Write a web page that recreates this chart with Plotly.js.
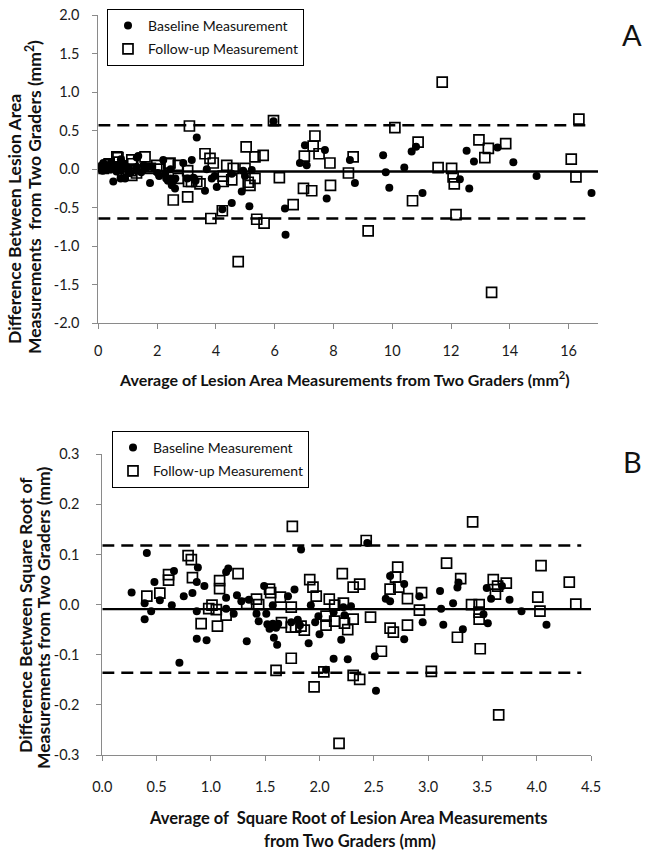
<!DOCTYPE html>
<html>
<head>
<meta charset="utf-8">
<script src="https://cdn.plot.ly/plotly-3.0.1.min.js"></script>
<style>html,body{margin:0;padding:0;background:#fff;}#chart{width:650px;height:854px;}</style>
</head>
<body>
<div id="chart"></div>
<script>
// ---------- Panel A: lesion area (mm^2) ----------
const topBaseX = [0.05,0.07,0.10,0.12,0.15,0.15,0.17,0.20,0.23,0.28,0.35,0.41,0.44,0.51,0.56,0.62,0.69,0.76,0.77,0.76,0.76,0.88,0.91,1.00,1.05,1.30,1.30,1.31,1.36,1.46,1.54,1.64,1.76,1.82,2.02,2.07,2.21,2.28,2.31,2.37,2.46,2.46,2.50,2.56,2.61,2.62,2.89,3.03,3.18,3.24,3.31,3.35,3.63,3.69,3.86,3.96,4.03,4.22,4.54,4.54,4.88,4.93,4.99,5.14,5.22,5.96,6.35,6.37,6.86,7.03,7.09,7.71,7.77,8.56,8.73,9.69,9.78,9.90,10.41,10.66,10.81,11.03,12.30,12.53,12.62,12.78,13.58,14.12,14.91,16.78];
const topBaseY = [0.02,0.01,0.04,-0.01,0.00,-0.02,0.08,-0.01,0.04,0.01,0.05,0.00,0.09,-0.16,0.03,-0.03,0.04,-0.02,0.13,0.08,-0.12,0.07,-0.12,0.02,-0.05,0.03,-0.02,0.15,0.17,-0.04,0.05,0.02,-0.18,0.03,-0.05,-0.09,0.12,-0.05,-0.12,-0.15,0.00,-0.12,-0.21,-0.15,-0.25,-0.12,0.08,-0.12,0.12,-0.11,-0.15,0.41,-0.28,0.00,-0.12,-0.09,-0.23,-0.52,-0.44,-0.06,-0.29,-0.02,-0.09,-0.48,-0.01,0.62,-0.51,-0.85,0.08,0.31,0.05,0.25,-0.38,0.12,-0.18,0.18,-0.04,-0.24,0.02,0.23,0.29,-0.31,-0.13,0.24,-0.25,0.10,0.28,0.09,-0.09,-0.31];
const topFollowX = [0.17,0.28,0.37,0.37,0.63,0.67,0.69,0.83,0.96,1.02,1.10,1.14,1.14,1.17,1.30,1.59,1.77,1.99,2.07,2.44,2.40,2.55,2.72,2.72,3.04,3.07,3.04,3.10,3.17,3.35,3.46,3.63,3.80,3.83,3.91,4.22,4.25,4.25,4.37,4.59,4.54,4.76,5.03,4.99,5.10,5.16,5.33,5.33,5.39,5.61,5.64,5.96,6.16,6.63,6.98,7.01,7.26,7.31,7.37,7.51,7.88,7.90,8.51,8.67,9.18,10.09,10.69,10.88,11.56,11.70,12.02,12.07,12.11,12.17,12.95,13.15,13.27,13.38,13.86,16.09,16.25,16.35];
const topFollowY = [0.01,0.02,0.07,0.06,0.16,0.15,0.09,-0.07,-0.02,0.00,-0.02,-0.08,0.12,0.07,-0.05,0.16,0.01,0.05,0.00,0.08,0.07,-0.40,0.05,-0.12,-0.02,-0.16,-0.36,0.56,-0.16,-0.16,-0.19,0.20,0.14,-0.64,0.08,-0.54,-0.09,-0.16,0.05,0.01,-0.14,-1.20,0.29,0.01,-0.17,-0.21,0.16,-0.12,-0.65,0.18,-0.70,0.63,-0.11,-0.46,-0.25,0.17,-0.28,0.30,0.43,0.20,0.08,-0.21,-0.05,0.16,-0.80,0.54,-0.41,0.35,0.02,1.13,0.01,-0.10,-0.19,-0.59,0.38,0.15,0.27,-1.60,0.33,0.13,-0.10,0.65];
const topMeanX = [0, 17];
const topMeanY = [-0.03, -0.03];
const topLimitX = [0, 16.8];
const topUpperY = [0.57, 0.57];
const topLowerY = [-0.64, -0.64];
const topXTicks = [0,2,4,6,8,10,12,14,16];
const topXTickText = ['0','2','4','6','8','10','12','14','16'];
const topYTicks = [-2,-1.5,-1,-0.5,0,0.5,1,1.5,2];
const topYTickText = ['-2.0','-1.5','-1.0','-0.5','0.0','0.5','1.0','1.5','2.0'];

// ---------- Panel B: square root of lesion area (mm) ----------
const botBaseX = [0.27,0.41,0.39,0.45,0.39,0.48,0.53,0.64,0.66,0.71,0.75,0.83,0.87,0.88,0.87,0.87,0.94,0.96,1.14,1.14,1.14,1.16,1.21,1.24,1.28,1.33,1.35,1.42,1.44,1.49,1.51,1.52,1.54,1.57,1.57,1.58,1.60,1.61,1.62,1.71,1.74,1.77,1.80,1.82,1.83,1.90,1.92,1.96,1.99,2.00,2.06,2.13,2.13,2.20,2.22,2.23,2.26,2.29,2.44,2.51,2.52,2.61,2.65,2.65,2.78,2.78,2.92,2.95,3.11,3.12,3.14,3.23,3.27,3.28,3.32,3.51,3.54,3.55,3.58,3.68,3.75,3.86,4.09];
const botBaseY = [0.024,0.103,0.003,-0.013,-0.029,0.045,0.009,-0.001,0.067,-0.116,0.017,0.023,-0.013,0.074,0.045,-0.068,0.037,-0.071,0.014,-0.008,0.065,0.072,-0.018,0.019,0.007,-0.073,0.010,-0.018,-0.033,0.037,-0.018,-0.039,-0.048,-0.001,-0.038,-0.066,-0.046,-0.080,-0.038,0.017,-0.035,0.030,-0.030,-0.041,0.110,-0.077,-0.001,-0.035,-0.023,-0.059,-0.130,-0.108,-0.015,-0.070,-0.005,-0.021,-0.109,-0.003,0.123,-0.103,-0.172,0.012,0.057,0.007,0.041,-0.069,0.017,-0.035,0.027,-0.008,-0.040,0.003,0.034,0.044,-0.049,-0.019,0.033,-0.037,0.012,0.037,0.010,-0.013,-0.040];
const botFollowX = [0.41,0.53,0.61,0.61,0.79,0.82,0.83,0.91,0.98,1.01,1.05,1.06,1.08,1.08,1.14,1.25,1.33,1.42,1.44,1.54,1.55,1.60,1.64,1.65,1.74,1.74,1.74,1.75,1.78,1.83,1.86,1.91,1.94,1.95,1.97,2.04,2.06,2.06,2.09,2.14,2.14,2.18,2.21,2.22,2.23,2.26,2.31,2.31,2.31,2.37,2.37,2.43,2.47,2.57,2.65,2.65,2.68,2.70,2.72,2.73,2.81,2.81,2.92,2.94,3.03,3.17,3.27,3.30,3.40,3.41,3.47,3.47,3.47,3.48,3.60,3.62,3.64,3.65,3.72,4.01,4.03,4.04,4.30,4.36];
const botFollowY = [0.017,0.023,0.060,0.049,0.098,0.090,0.054,-0.038,-0.008,-0.001,-0.010,-0.043,0.048,0.032,-0.021,0.062,0.002,0.011,0.000,0.031,0.024,-0.131,0.015,-0.036,-0.005,-0.045,-0.107,0.156,-0.045,-0.043,-0.051,0.050,0.035,-0.164,0.017,-0.134,-0.023,-0.041,0.011,-0.001,-0.033,-0.277,0.062,0.003,-0.037,-0.050,0.035,-0.029,-0.141,0.041,-0.149,0.128,-0.025,-0.093,-0.047,0.031,-0.055,0.055,0.075,0.035,0.012,-0.041,-0.011,0.024,-0.133,0.083,-0.065,0.052,0.000,0.165,0.000,-0.015,-0.029,-0.088,0.050,0.021,0.037,-0.220,0.043,0.015,-0.013,0.078,0.045,0.001];
const botMeanX = [0, 4.5];
const botMeanY = [-0.009, -0.009];
const botLimitX = [0, 4.41];
const botUpperY = [0.118, 0.118];
const botLowerY = [-0.136, -0.136];
const botXTicks = [0,0.5,1,1.5,2,2.5,3,3.5,4,4.5];
const botXTickText = ['0.0','0.5','1.0','1.5','2.0','2.5','3.0','3.5','4.0','4.5'];
const botYTicks = [-0.3,-0.2,-0.1,0,0.1,0.2,0.3];
const botYTickText = ['-0.3','-0.2','-0.1','0.0','0.1','0.2','0.3'];

const seriesNames = ['Baseline Measurement', 'Follow-up Measurement'];

const FONT = 'Lato, "Open Sans", sans-serif';
const W = 650, H = 854;
const px = v => v / W;
const py = v => 1 - v / H;

const baseMarker = {symbol: 'circle', size: 8, color: '#000'};
const followMarker = {symbol: 'square-open', size: 10, color: '#000', line: {width: 1.7, color: '#000'}};
const dashLine = {color: '#000', width: 2.4, dash: '12px,7px'};
const solidLine = {color: '#000', width: 2.4};

const traces = [
  {x: topMeanX, y: topMeanY, xaxis: 'x', yaxis: 'y', mode: 'lines', line: solidLine, showlegend: false, hoverinfo: 'skip'},
  {x: topLimitX, y: topUpperY, xaxis: 'x', yaxis: 'y', mode: 'lines', line: dashLine, showlegend: false, hoverinfo: 'skip'},
  {x: topLimitX, y: topLowerY, xaxis: 'x', yaxis: 'y', mode: 'lines', line: dashLine, showlegend: false, hoverinfo: 'skip'},
  {x: topBaseX, y: topBaseY, xaxis: 'x', yaxis: 'y', mode: 'markers', marker: baseMarker, name: seriesNames[0], legend: 'legend', legendgroup: 'a1'},
  {x: topFollowX, y: topFollowY, xaxis: 'x', yaxis: 'y', mode: 'markers', marker: followMarker, name: seriesNames[1], legend: 'legend', legendgroup: 'a2'},
  {x: botMeanX, y: botMeanY, xaxis: 'x2', yaxis: 'y2', mode: 'lines', line: solidLine, showlegend: false, hoverinfo: 'skip'},
  {x: botLimitX, y: botUpperY, xaxis: 'x2', yaxis: 'y2', mode: 'lines', line: dashLine, showlegend: false, hoverinfo: 'skip'},
  {x: botLimitX, y: botLowerY, xaxis: 'x2', yaxis: 'y2', mode: 'lines', line: dashLine, showlegend: false, hoverinfo: 'skip'},
  {x: botBaseX, y: botBaseY, xaxis: 'x2', yaxis: 'y2', mode: 'markers', marker: baseMarker, name: seriesNames[0], legend: 'legend2', legendgroup: 'b1'},
  {x: botFollowX, y: botFollowY, xaxis: 'x2', yaxis: 'y2', mode: 'markers', marker: followMarker, name: seriesNames[1], legend: 'legend2', legendgroup: 'b2'}
];

const axisCommon = {
  showline: true, linecolor: '#8a8a8a', linewidth: 1,
  ticks: 'outside', ticklen: 5, tickcolor: '#8a8a8a', tickwidth: 1,
  showgrid: false, zeroline: false, automargin: false,
  tickfont: {family: FONT, size: 14.5, color: '#1a1a1a'},
  tickmode: 'array'
};

const legendCommon = {
  xanchor: 'left', yanchor: 'top', bordercolor: '#000', borderwidth: 1, bgcolor: 'rgba(255,255,255,0)',
  font: {family: FONT, size: 14, color: '#111'}, traceorder: 'grouped', tracegroupgap: 2, itemwidth: 30
};

const yTitleFont = {family: FONT, size: 17.5, color: '#111'};
const xTitleFont = {family: FONT, size: 16, color: '#111'};
const xTitleFont2 = {family: FONT, size: 16.5, color: '#111'};

function note(x, y, text, font, angle) {
  const a = {xref: 'paper', yref: 'paper', x: px(x), y: py(y), text: text, showarrow: false,
             xanchor: 'center', yanchor: 'middle', font: font};
  if (angle) a.textangle = angle;
  return a;
}

const layout = {
  width: W, height: H,
  margin: {l: 0, r: 0, t: 0, b: 0},
  paper_bgcolor: '#fff', plot_bgcolor: '#fff',
  showlegend: true,
  xaxis: Object.assign({}, axisCommon, {domain: [px(98.3), px(598)], range: [0, 17], anchor: 'y', tickvals: topXTicks, ticktext: topXTickText, ticklabelstandoff: 9}),
  yaxis: Object.assign({}, axisCommon, {domain: [py(323.3), py(15)], range: [-2, 2], anchor: 'x', tickvals: topYTicks, ticktext: topYTickText, ticklabelstandoff: 10}),
  xaxis2: Object.assign({}, axisCommon, {domain: [px(102.3), px(591)], range: [0, 4.5], anchor: 'y2', tickvals: botXTicks, ticktext: botXTickText, ticklabelstandoff: 14}),
  yaxis2: Object.assign({}, axisCommon, {domain: [py(755), py(454.3)], range: [-0.3, 0.3], anchor: 'x2', tickvals: botYTicks, ticktext: botYTickText, ticklabelstandoff: 14}),
  legend: Object.assign({}, legendCommon, {x: px(107), y: py(9)}),
  legend2: Object.assign({}, legendCommon, {x: px(112), y: py(431)}),
  annotations: [
    note(632, 34, 'A', {family: FONT, size: 29, color: '#111'}),
    note(632, 461, 'B', {family: FONT, size: 29, color: '#111'}),
    note(15, 219, '<b>Difference Between Lesion Area</b>', yTitleFont, -90),
    note(33, 197, '<b>Measurements  from Two Graders (mm<sup>2</sup>)</b>', yTitleFont, -90),
    note(344, 378, '<b>Average of Lesion Area Measurements from Two Graders (mm<sup>2</sup>)</b>', xTitleFont),
    note(25, 615, '<b>Difference Between Square Root of</b>', yTitleFont, -90),
    note(43, 618, '<b>Measurements from Two Graders (mm)</b>', yTitleFont, -90),
    note(348, 818, '<b>Average of  Square Root of Lesion Area Measurements</b>', xTitleFont2),
    note(350, 841, '<b>from Two Graders (mm)</b>', xTitleFont2)
  ]
};

Plotly.newPlot('chart', traces, layout, {staticPlot: true, displayModeBar: false});
</script>
</body>
</html>
